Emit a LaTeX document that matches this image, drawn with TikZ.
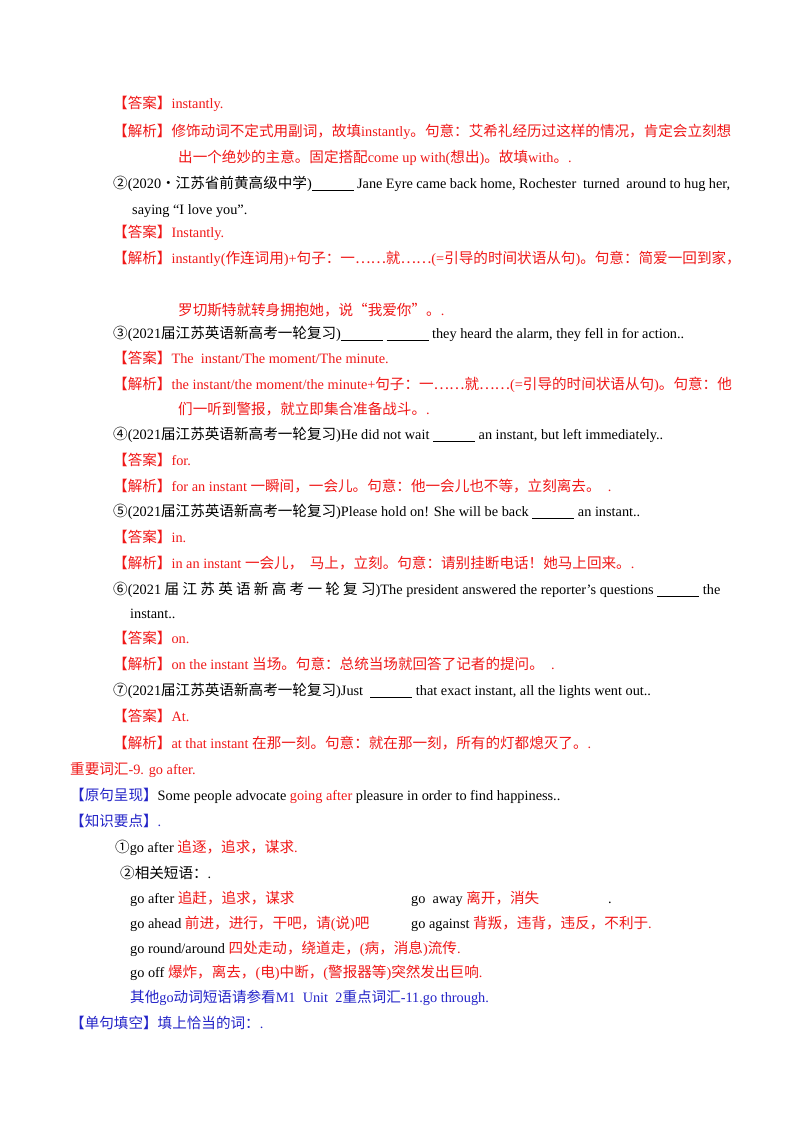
\documentclass[tikz,border=0pt]{standalone}
\usepackage{fontspec}
\setmainfont{Liberation Serif}
\newfontfamily\cjk[Scale=1.02]{Noto Sans CJK SC}
\newcommand\zh[1]{{\cjk #1}}
\definecolor{rd}{HTML}{F01818}
\definecolor{bl}{HTML}{2424C8}
\newcommand\blank{\rule[-2pt]{42pt}{0.5pt}}
\tikzset{ln/.style={anchor=base west,inner sep=0pt,font=\fontsize{14.3}{16}\selectfont}}
\begin{document}
\begin{tikzpicture}[x=1pt,y=-1pt]
\useasboundingbox (0,0) rectangle (800,1132);
\fill[white] (0,0) rectangle (800,1132);
\node[ln] (a1) at (113,108) {\color{rd}\zh{【答案】}instantly.};
\node[ln] (a2) at (113,136) {\color{rd}\zh{【解析】修饰动词不定式用副词，故填}instantly\zh{。句意：艾希礼经历过这样的情况，肯定会立刻想}};
\node[ln] (a3) at (178,162) {\color{rd}\zh{出一个绝妙的主意。固定搭配}come up with(\zh{想出})\zh{。故填}with\zh{。}.};
\node[ln,text width=617pt,align=justify] (b1) at (113,188) {\zh{②}(2020\zh{·江苏省前黄高级中学})\blank{} Jane Eyre came back home, Rochester\ \ turned\ \ around to hug her,};
\node[ln] (b2) at (132,214) {saying “I love you”.};
\node[ln] (b3) at (113,237) {\color{rd}\zh{【答案】}Instantly.};
\node[ln] (b4) at (113,263) {\color{rd}\zh{【解析】}instantly(\zh{作连词用})+\zh{句子：一……就……}(=\zh{引导的时间状语从句})\zh{。句意：简爱一回到家，}};
\node[ln] (b5) at (178,315) {\color{rd}\zh{罗切斯特就转身拥抱她，说“我爱你”。}.};
\node[ln] (c1) at (113,338) {\zh{③}(2021\zh{届江苏英语新高考一轮复习})\blank{} \blank{} they heard the alarm, they fell in for action..};
\node[ln] (c2) at (113,363) {\color{rd}\zh{【答案】}The\ \ instant/The moment/The minute.};
\node[ln] (c3) at (113,389) {\color{rd}\zh{【解析】}the instant/the moment/the minute+\zh{句子：一……就……}(=\zh{引导的时间状语从句})\zh{。句意：他}};
\node[ln] (c4) at (178,414) {\color{rd}\zh{们一听到警报，就立即集合准备战斗。}.};
\node[ln] (d1) at (113,439) {\zh{④}(2021\zh{届江苏英语新高考一轮复习})He did not wait \blank{} an instant, but left immediately..};
\node[ln] (d2) at (113,465) {\color{rd}\zh{【答案】}for.};
\node[ln] (d3) at (113,491) {\color{rd}\zh{【解析】}for an instant \zh{一瞬间，一会儿。句意：他一会儿也不等，立刻离去。}\ \ .};
\node[ln] (e1) at (113,516) {\zh{⑤}(2021\zh{届江苏英语新高考一轮复习})Please hold on! She will be back \blank{} an instant..};
\node[ln] (e2) at (113,542) {\color{rd}\zh{【答案】}in.};
\node[ln] (e3) at (113,568) {\color{rd}\zh{【解析】}in an instant \zh{一会儿，\ \ 马上，立刻。句意：请别挂断电话！她马上回来。}.};
\node[ln,text width=617pt,align=justify] (f1) at (113,594) {\zh{⑥}(2021 \zh{届 江 苏 英 语 新 高 考 一 轮 复 习})The president answered the reporter’s questions \blank{} the};
\node[ln] (f2) at (130,618) {instant..};
\node[ln] (f3) at (113,643) {\color{rd}\zh{【答案】}on.};
\node[ln] (f4) at (113,669) {\color{rd}\zh{【解析】}on the instant \zh{当场。句意：总统当场就回答了记者的提问。}\ \ .};
\node[ln] (g1) at (113,695) {\zh{⑦}(2021\zh{届江苏英语新高考一轮复习})Just\ \ \blank{} that exact instant, all the lights went out..};
\node[ln] (g2) at (113,721) {\color{rd}\zh{【答案】}At.};
\node[ln] (g3) at (113,748) {\color{rd}\zh{【解析】}at that instant \zh{在那一刻。句意：就在那一刻，所有的灯都熄灭了。}.};
\node[ln] (h1) at (70,774) {\color{rd}\zh{重要词汇}-9. go after.};
\node[ln] (h2) at (70,800) {{\color{bl}\zh{【原句呈现】}}Some people advocate {\color{rd}going after} pleasure in order to find happiness..};
\node[ln] (h3) at (70,826) {\color{bl}\zh{【知识要点】}.};
\node[ln] (h4) at (115,852) {\zh{①}go after {\color{rd}\zh{追逐，追求，谋求}.}};
\node[ln] (h5) at (120,878) {\zh{②相关短语：}.};
\node[ln] (h6) at (130,903) {go after {\color{rd}\zh{追赶，追求，谋求}}};
\node[ln] (h7) at (411,903) {go\ \ away {\color{rd}\zh{离开，消失}}};
\node[ln] (h7b) at (608,903) {.};
\node[ln] (h8) at (130,928) {go ahead {\color{rd}\zh{前进，进行，干吧，请}(\zh{说})\zh{吧}}};
\node[ln] (h9) at (411,928) {go against {\color{rd}\zh{背叛，违背，违反，不利于}.}};
\node[ln] (h10) at (130,953) {go round/around {\color{rd}\zh{四处走动，绕道走，}(\zh{病，消息})\zh{流传}.}};
\node[ln] (h11) at (130,977) {go off {\color{rd}\zh{爆炸，离去，}(\zh{电})\zh{中断，}(\zh{警报器等})\zh{突然发出巨响}.}};
\node[ln] (h12) at (130,1002) {\color{bl}\zh{其他}go\zh{动词短语请参看}M1\ \ Unit\ \ 2\zh{重点词汇}-11.go through.};
\node[ln] (h13) at (70,1028) {\color{bl}\zh{【单句填空】填上恰当的词：}.};
\end{tikzpicture}
\end{document}
